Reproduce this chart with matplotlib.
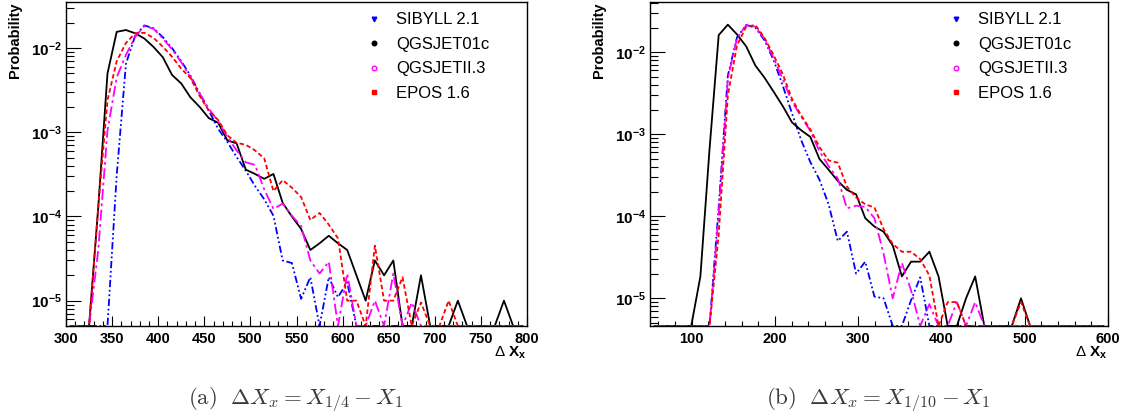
import matplotlib
matplotlib.use("Agg")
import matplotlib.pyplot as plt
import numpy as np
from matplotlib.lines import Line2D
from matplotlib.ticker import LogLocator, MultipleLocator, FixedLocator, NullFormatter, FuncFormatter

plt.rcParams["font.family"] = ["Liberation Sans", "DejaVu Sans"]
plt.rcParams["mathtext.fontset"] = "custom"
plt.rcParams["mathtext.rm"] = "Liberation Sans"
plt.rcParams["mathtext.bf"] = "Liberation Sans:bold"
plt.rcParams["mathtext.it"] = "Liberation Sans:italic"

MODELS = ["SIBYLL 2.1", "QGSJET01c", "QGSJETII.3", "EPOS 1.6"]

# panel (a): X_1/4 - X_1, 50 bins of width 10 from 300 to 800
BINS_A = np.arange(305, 800, 10)
SIBYLL_A = [0, 0, 0, 0, 0, 3.1e-4, 6.5e-3, 0.0140, 0.0186, 0.0172,
            0.0135, 0.0100, 7.0e-3, 4.7e-3, 2.9e-3, 1.8e-3, 1.1e-3, 7.7e-4, 5.1e-4, 3.5e-4,
            2.3e-4, 1.6e-4, 1.02e-4, 3.0e-5, 2.8e-5, 1.05e-5, 1.9e-5, 0, 1.9e-5, 1.1e-5,
            1.65e-5, 0, 0, 0, 0, 0, 0, 0, 0, 0,
            0, 0, 0, 0, 0, 0, 0, 0, 0, 0]
QGSJET01_A = [0, 0, 0, 1.3e-4, 5.0e-3, 0.0156, 0.0164, 0.0150, 0.0130, 0.0103,
              7.8e-3, 4.8e-3, 3.8e-3, 2.6e-3, 2.0e-3, 1.47e-3, 1.3e-3, 8.0e-4, 7.4e-4, 3.6e-4,
              3.2e-4, 2.8e-4, 3.2e-4, 1.45e-4, 1.0e-4, 7.1e-5, 4.0e-5, 4.8e-5, 5.9e-5, 4.8e-5,
              4.0e-5, 2.0e-5, 1.0e-5, 3.0e-5, 2.0e-5, 3.0e-5, 0, 0, 2.0e-5, 0,
              0, 0, 1.0e-5, 0, 0, 0, 0, 1.0e-5, 0, 0]
QGSJETII_A = [0, 0, 0, 4.0e-5, 1.05e-3, 4.5e-3, 8.3e-3, 0.0136, 0.0183, 0.0170,
              0.0130, 9.7e-3, 6.8e-3, 4.5e-3, 2.9e-3, 1.9e-3, 1.35e-3, 8.8e-4, 6.1e-4, 4.4e-4,
              4.1e-4, 2.1e-4, 1.23e-4, 1.42e-4, 1.02e-4, 7.7e-5, 3.0e-5, 2.1e-5, 2.9e-5, 0,
              2.1e-5, 0, 0, 1.0e-5, 0, 2.1e-5, 0, 9.5e-6, 0, 0,
              0, 0, 0, 0, 0, 0, 0, 0, 0, 0]
EPOS_A = [0, 0, 0, 1.3e-4, 2.4e-3, 7.0e-3, 0.0115, 0.0150, 0.0152, 0.0132,
          0.0104, 7.9e-3, 5.7e-3, 4.4e-3, 2.7e-3, 1.8e-3, 1.4e-3, 9.2e-4, 7.5e-4, 7.1e-4,
          6.1e-4, 4.9e-4, 2.0e-4, 2.7e-4, 2.2e-4, 1.7e-4, 9.1e-5, 1.1e-4, 8.0e-5, 5.5e-5,
          1.0e-5, 1.0e-5, 0, 4.5e-5, 1.0e-5, 1.0e-5, 1.9e-5, 0, 9.5e-6, 0,
          0, 1.0e-5, 0, 0, 0, 0, 0, 0, 0, 0]

# panel (b): X_1/10 - X_1, 50 bins of width 11 from 50 to 600
BINS_B = np.arange(55.5, 600, 11)
SIBYLL_B = [0, 0, 0, 0, 0, 0, 0, 1.3e-4, 5.2e-3, 0.0152,
            0.0215, 0.0200, 0.0140, 8.0e-3, 3.9e-3, 1.8e-3, 8.5e-4, 4.6e-4, 2.8e-4, 1.4e-4,
            5.0e-5, 6.5e-5, 2.0e-5, 2.8e-5, 1.05e-5, 1.0e-5, 0, 0, 9.5e-6, 1.8e-5,
            0, 0, 0, 0, 0, 0, 0, 0, 0, 0,
            0, 0, 0, 0, 0, 0, 0, 0, 0, 0]
QGSJET01_B = [0, 0, 0, 0, 0, 1.85e-5, 6.6e-4, 0.0162, 0.0217, 0.0165,
              0.0118, 6.9e-3, 4.9e-3, 3.3e-3, 2.2e-3, 1.4e-3, 1.12e-3, 9.3e-4, 5.0e-4, 3.7e-4,
              2.7e-4, 2.1e-4, 1.85e-4, 9.5e-5, 7.5e-5, 6.5e-5, 4.4e-5, 1.85e-5, 2.8e-5, 2.8e-5,
              3.7e-5, 1.85e-5, 0, 0, 1.0e-5, 1.85e-5, 0, 0, 0, 0,
              1.0e-5, 0, 0, 0, 0, 0, 0, 0, 0, 0]
QGSJETII_B = [0, 0, 0, 0, 0, 0, 0, 1.1e-4, 4.8e-3, 0.0148,
              0.0213, 0.0205, 0.0146, 8.5e-3, 4.7e-3, 2.5e-3, 1.65e-3, 1.1e-3, 6.2e-4, 4.1e-4,
              2.9e-4, 1.25e-4, 1.35e-4, 1.3e-4, 9.5e-5, 3.5e-5, 1.0e-5, 2.7e-5, 1.25e-5, 0,
              8.5e-6, 0, 0, 9.0e-6, 0, 9.0e-6, 0, 0, 0, 0,
              0, 0, 0, 0, 0, 0, 0, 0, 0, 0]
EPOS_B = [0, 0, 0, 0, 0, 0, 0, 6.0e-5, 3.0e-3, 0.0122,
          0.0205, 0.0215, 0.0150, 9.2e-3, 5.4e-3, 2.7e-3, 1.7e-3, 1.15e-3, 7.0e-4, 4.8e-4,
          4.5e-4, 2.3e-4, 1.7e-4, 1.4e-4, 1.28e-4, 7.0e-5, 4.6e-5, 3.7e-5, 3.7e-5, 3.0e-5,
          1.9e-5, 0, 9.0e-6, 9.0e-6, 0, 0, 0, 0, 0, 0,
          9.0e-6, 0, 0, 0, 0, 0, 0, 0, 0, 0]

COLORS = ["#0000ff", "#000000", "#ff00ff", "#ff0000"]
STYLES = [(0, (4, 1.5, 1, 1.5, 1, 1.5)), "-", (0, (6, 2, 1.5, 2)), (0, (2.5, 1.5))]
MARKERS = ["v", "o", "o", "s"]
MFILL = ["#0000ff", "#000000", "white", "#ff0000"]

W, H = 1128, 418


def log_label(v, pos):
    e = int(round(np.log10(v)))
    return r"$\mathbf{10}^{\mathbf{%d}}$" % e


def draw_panel(rect, bins, series, xlim, ylim, xmajor, xminor, ylab_x, caption, cap_x):
    ax = plt.gcf().add_axes(rect)
    for vals, c, ls in zip(series, COLORS, STYLES):
        y = np.where(np.asarray(vals) > 0, vals, ylim[0])
        ax.plot(bins, y, color=c, linestyle=ls, lw=1.3, clip_on=False)
    ax.set_yscale("log")
    ax.set_xlim(*xlim)
    ax.set_ylim(*ylim)
    ax.xaxis.set_major_locator(MultipleLocator(xmajor))
    ax.xaxis.set_minor_locator(MultipleLocator(xminor))
    ax.yaxis.set_major_locator(FixedLocator([1e-5, 1e-4, 1e-3, 1e-2]))
    ax.yaxis.set_minor_locator(LogLocator(base=10, subs=np.arange(2, 10)))
    ax.yaxis.set_major_formatter(FuncFormatter(log_label))
    ax.yaxis.set_minor_formatter(NullFormatter())
    ax.tick_params(axis="both", which="both", direction="in", top=False, right=False, width=0.8)
    ax.tick_params(axis="y", which="major", length=11, pad=3, labelsize=11)
    ax.tick_params(axis="y", which="minor", length=5.5)
    ax.tick_params(axis="x", which="major", length=7, pad=4, labelsize=10.5)
    ax.tick_params(axis="x", which="minor", length=3.5)
    for lab in ax.get_xticklabels():
        lab.set_fontweight("bold")
    for s in ax.spines.values():
        s.set_linewidth(1.0)

    handles = [Line2D([], [], linestyle="none", marker=m, color=c, markerfacecolor=f,
                      markeredgecolor=c, markersize=3.3, markeredgewidth=1.0)
               for m, c, f in zip(MARKERS, COLORS, MFILL)]
    ax.legend(handles, MODELS, loc="upper left", bbox_to_anchor=(0.654, 0.968),
              frameon=False, fontsize=12, handlelength=0.8, handletextpad=0.92,
              labelspacing=0.57, borderpad=0, borderaxespad=0)

    ax.text(1.0, -0.083, r"$\Delta\ \mathbf{X}_{\mathbf{x}}$", transform=ax.transAxes,
            ha="right", va="center", fontsize=11)
    plt.gcf().text(ylab_x / W, 1 - 2 / H, "Probability", rotation=90, ha="center", va="top",
                   fontsize=10.5, fontweight="bold")
    plt.gcf().text(cap_x / W, 1 - 400 / H, caption, ha="center", va="center",
                   fontsize=16.5, color="#3a3a3a", math_fontfamily="cm")
    return ax


def main():
    fig = plt.figure(figsize=(W / 100, H / 100), dpi=100)
    fig.patch.set_facecolor("white")

    draw_panel([66 / W, 1 - 326 / H, 461 / W, 324 / H], BINS_A,
               [SIBYLL_A, QGSJET01_A, QGSJETII_A, EPOS_A],
               (300, 800), (5.0e-6, 0.0353), 50, 10, 15,
               r"$\mathrm{(a)}\ \ \Delta X_x = X_{1/4} - X_1$", 296)
    draw_panel([650 / W, 1 - 326 / H, 458 / W, 324 / H], BINS_B,
               [SIBYLL_B, QGSJET01_B, QGSJETII_B, EPOS_B],
               (50, 600), (4.6e-6, 0.041), 100, 20, 599,
               r"$\mathrm{(b)}\ \ \Delta X_x = X_{1/10} - X_1$", 878)

    fig.savefig("out.png", dpi=100, facecolor="white")


if __name__ == "__main__":
    main()
